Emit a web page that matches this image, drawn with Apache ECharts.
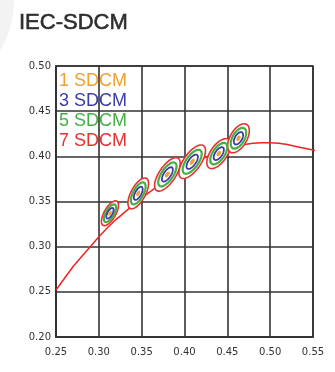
<!DOCTYPE html>
<html>
<head>
<meta charset="utf-8">
<script src="https://cdn.jsdelivr.net/npm/echarts@6/dist/echarts.min.js"></script>
<style>html,body{margin:0;padding:0;background:#fff;}#c{width:335px;height:372px;}</style>
</head>
<body>
<div id="c"></div>
<script>
// Planckian-like locus
var locusX = [0.250,0.260,0.270,0.280,0.290,0.300,0.310,0.320,0.330,0.340,0.350,0.360,0.370,0.380,0.390,0.400,0.410,0.420,0.430,0.440,0.450,0.460,0.470,0.480,0.490,0.500,0.510,0.520,0.530,0.540,0.550,0.555];
var locusY = [0.252,0.265,0.278,0.289,0.300,0.311,0.321,0.330,0.338,0.346,0.354,0.361,0.368,0.375,0.381,0.387,0.392,0.397,0.401,0.405,0.408,0.411,0.413,0.4145,0.415,0.415,0.4145,0.413,0.411,0.409,0.407,0.406];

// ellipse centres (F6500, F5000, F4000, F3500, F3000, F2700)
var centerX = [0.313,0.346,0.380,0.409,0.440,0.463];
var centerY = [0.337,0.359,0.380,0.394,0.403,0.420];
// 1-step semi axes and rotation (degrees)
var semiA = [0.00223,0.00274,0.00313,0.00317,0.00278,0.00258];
var semiB = [0.00095,0.00118,0.00134,0.00139,0.00136,0.00137];
var theta = [58.23,59.62,54.00,52.58,53.13,57.28];

var stepNames = ['1 SDCM','3 SDCM','5 SDCM','7 SDCM'];
var steps = [1,3,5,7];
var stepColors = ['#f0a030','#3c3ca8','#44b044','#e83030'];

var xTicks = [0.25,0.30,0.35,0.40,0.45,0.50,0.55];
var yTicks = [0.20,0.25,0.30,0.35,0.40,0.45,0.50];

var locusData = locusX.map(function(x,i){return [x, locusY[i]];});
var ellData = centerX.map(function(x,i){return [x, centerY[i], semiA[i], semiB[i], theta[i]];});

function makeEllipseSeries(k){
  var m = steps[k];
  var col = stepColors[k];
  var isCore = (m === 1);
  var isOuter = (m === 7);
  return {
    name: stepNames[k],
    type: 'custom',
    coordinateSystem: 'cartesian2d',
    z: 10 + (7 - m),
    encode: {x: 0, y: 1},
    data: ellData,
    renderItem: function(params, api){
      var cx = api.value(0), cy = api.value(1);
      var a = api.value(2) * m, b = api.value(3) * m;
      var t = api.value(4) * Math.PI / 180;
      var pts = [];
      var N = 60;
      for (var i = 0; i < N; i++){
        var ang = 2 * Math.PI * i / N;
        var ex = a * Math.cos(ang), ey = b * Math.sin(ang);
        var px = cx + ex * Math.cos(t) - ey * Math.sin(t);
        var py = cy + ex * Math.sin(t) + ey * Math.cos(t);
        pts.push(api.coord([px, py]));
      }
      return {
        type: 'polygon',
        shape: {points: pts},
        style: {
          fill: isCore ? col : (isOuter ? '#ffffff' : 'none'),
          stroke: col,
          lineWidth: isCore ? 1.2 : (isOuter ? 1.6 : (m === 5 ? 2.2 : 1.8))
        }
      };
    }
  };
}

var chart = echarts.init(document.getElementById('c'), null, {renderer: 'canvas'});
var series = [{
  name: 'locus',
  type: 'line',
  data: locusData,
  showSymbol: false,
  symbol: 'none',
  smooth: false,
  z: 5,
  lineStyle: {color: '#f02424', width: 1.5},
  silent: true
}];
for (var k = 3; k >= 0; k--) series.push(makeEllipseSeries(k));

var axisFont = {fontFamily: 'DejaVu Sans', fontSize: 10, color: '#333'};

chart.setOption({
  backgroundColor: '#ffffff',
  animation: false,
  graphic: [{
    type: 'circle', shape: {cx: -85, cy: 0, r: 99}, style: {fill: '#f3f3f3'}, z: -10, silent: true
  }],
  title: {
    text: 'IEC-SDCM', left: 14, top: 7,
    textStyle: {fontFamily: 'Liberation Sans', fontSize: 22, fontWeight: 'normal', color: '#2e2e2e',
      textBorderColor: '#2e2e2e', textBorderWidth: 0.6}
  },
  legend: {
    orient: 'vertical', left: 54, top: 72, padding: 0,
    itemWidth: 0, itemHeight: 0, itemGap: 2, icon: 'none', selectedMode: false,
    data: stepNames.map(function(n,i){return {name: n, textStyle: {color: stepColors[i]}};}),
    textStyle: {fontFamily: 'Liberation Sans', fontSize: 18, lineHeight: 18}
  },
  grid: {left: 56, right: 22, top: 66, bottom: 35, show: true, borderColor: '#333', borderWidth: 1.6},
  xAxis: {
    type: 'value', min: xTicks[0], max: xTicks[xTicks.length-1], interval: 0.05,
    axisLine: {show: true, lineStyle: {color: '#333', width: 1.6}},
    axisTick: {show: false},
    splitLine: {show: true, lineStyle: {color: '#333', width: 1.6}},
    axisLabel: Object.assign({margin: 10, formatter: function(v){return v.toFixed(2);}}, axisFont)
  },
  yAxis: {
    type: 'value', min: yTicks[0], max: yTicks[yTicks.length-1], interval: 0.05,
    axisLine: {show: true, lineStyle: {color: '#333', width: 1.6}},
    axisTick: {show: false},
    splitLine: {show: true, lineStyle: {color: '#333', width: 1.6}},
    axisLabel: Object.assign({margin: 5, formatter: function(v){return v.toFixed(2);}}, axisFont)
  },
  series: series
});
</script>
</body>
</html>
